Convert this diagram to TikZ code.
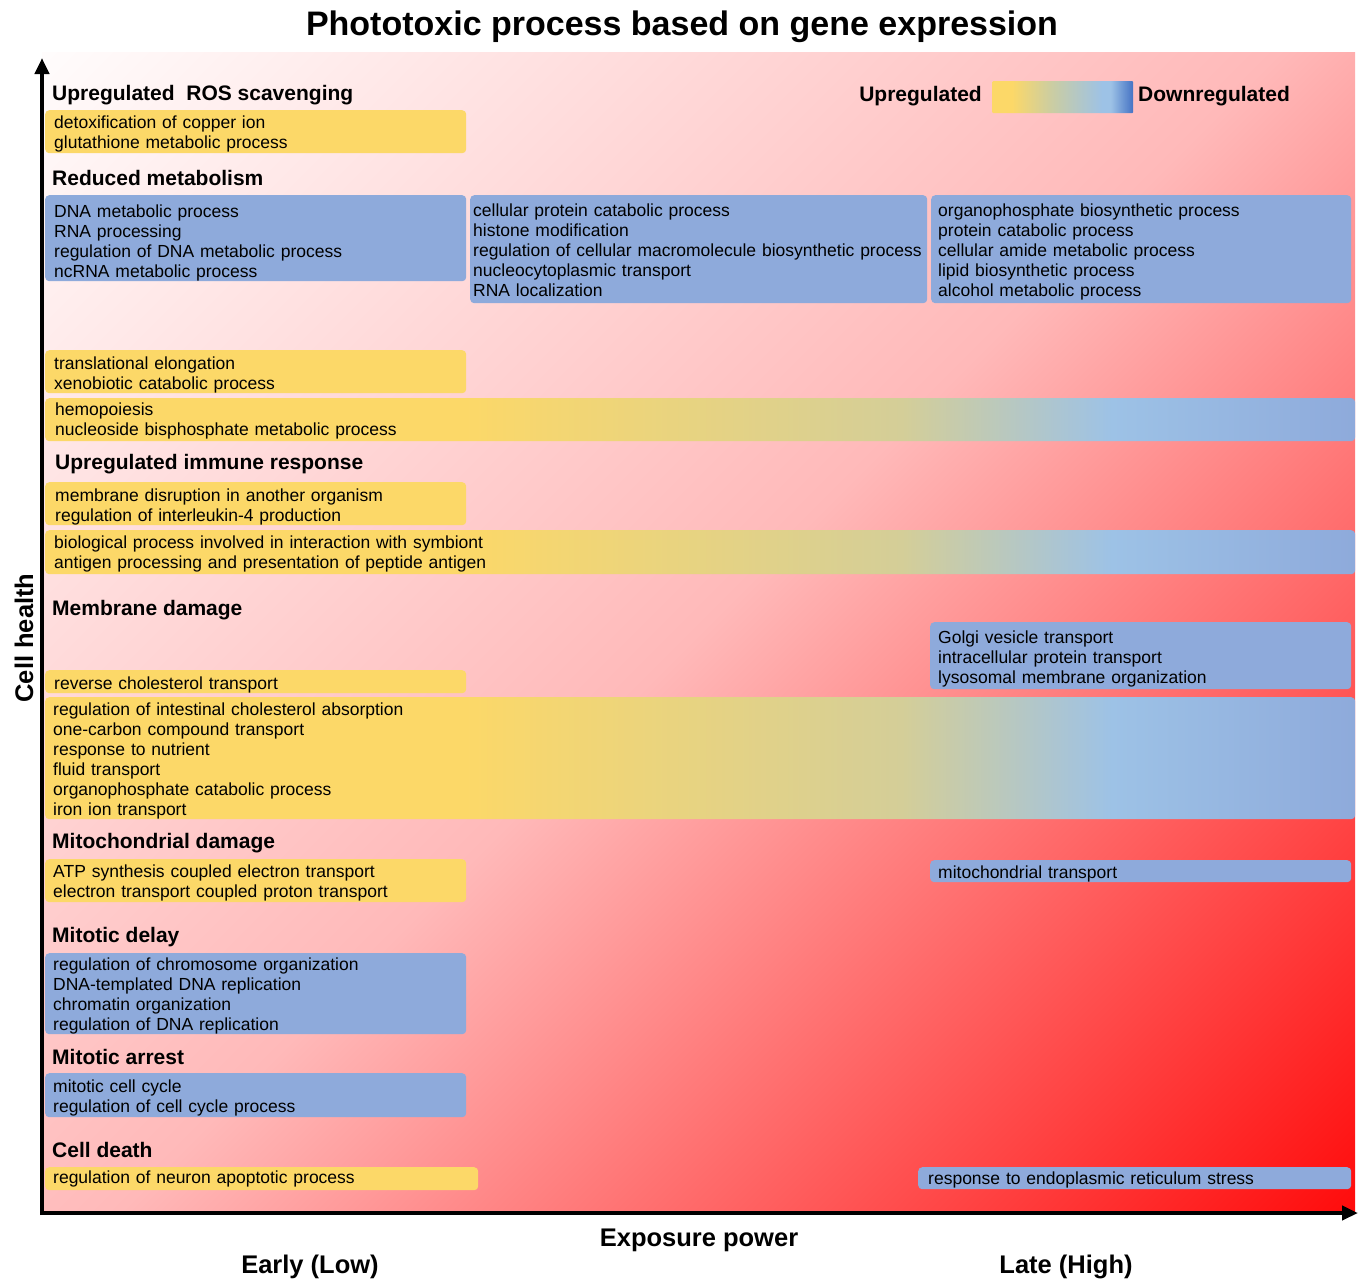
\documentclass[tikz,border=0pt]{standalone}
\usepackage{fontspec}
\setmainfont{Liberation Sans}
\usetikzlibrary{arrows.meta}
\definecolor{ylw}{RGB}{252,216,104}
\definecolor{blu}{RGB}{142,170,219}
\definecolor{midc}{RGB}{212,206,152}
\definecolor{lbl}{RGB}{157,194,230}
\definecolor{lgmid}{RGB}{203,205,162}
\definecolor{lgdark}{RGB}{68,114,196}
\definecolor{bgA}{RGB}{255,252,252}
\definecolor{bgB}{RGB}{255,185,185}
\definecolor{bgC}{RGB}{255,12,12}
\pgfdeclarehorizontalshading{upbar}{100bp}{color(0bp)=(ylw); color(25bp)=(ylw); color(41bp)=(ylw); color(57.7bp)=(midc); color(65.7bp)=(lbl); color(75bp)=(blu); color(100bp)=(blu)}
\pgfdeclarehorizontalshading{legshade}{100bp}{color(0bp)=(ylw); color(32bp)=(ylw); color(46bp)=(lgmid); color(64bp)=(lbl); color(67bp)=(lbl); color(75bp)=(lgdark); color(100bp)=(lgdark)}
\pgfdeclarehorizontalshading{bgshade}{100bp}{color(0bp)=(bgA); color(14.6bp)=(bgA); color(50bp)=(bgB); color(85.4bp)=(bgC); color(100bp)=(bgC)}
\newcommand\bodyfs{\fontsize{17.5pt}{20pt}\selectfont}
\newcommand\hdfs{\fontsize{21pt}{24pt}\selectfont\bfseries}
\newcommand\axfs{\fontsize{25.5pt}{28pt}\selectfont\bfseries}
\newcommand\ttlfs{\fontsize{34pt}{38pt}\selectfont\bfseries}
\tikzset{
  gobox/.style={rounded corners=4pt, anchor=north west, inner ysep=0pt, align=left, font=\bodyfs, text=black},
  upbox/.style={gobox, fill=ylw},
  downbox/.style={gobox, fill=blu},
  mixbox/.style={gobox, shading=upbar},
  tb/.style 2 args={execute at begin node={\rule{0pt}{#1pt}}, execute at end node={\rule[-#2pt]{0pt}{#2pt}}},
  hd/.style={anchor=base west, font=\hdfs, inner sep=0pt},
  axlbl/.style={font=\axfs, inner sep=0pt},
  axisline/.style={line width=4pt, -{Triangle[length=16pt,width=14pt]}},
}
\begin{document}
\begin{tikzpicture}[x=1pt,y=-1pt]
\useasboundingbox (0,0) rectangle (1359,1278);
% background
\shade[shading=bgshade, shading angle=-45] (42,52) rectangle (1355,1213);
% title
\node[font=\ttlfs, anchor=base, inner sep=0pt] (title) at (682,35) {Phototoxic process based on gene expression};
% legend
\node[anchor=base east, font=\hdfs, inner sep=0pt] (uplbl) at (982,101) {Upregulated};
\node[anchor=north west, shading=legshade, minimum width=141pt, minimum height=32pt, inner sep=0pt, rounded corners=1pt] (lgbar) at (992,81) {};
\node[anchor=base west, font=\hdfs, inner sep=0pt] (dnlbl) at (1138,101) {Downregulated};
% headings
\node[hd] (h1) at (52,100) {Upregulated\ \ ROS scavenging};
\node[hd] (h2) at (52,185) {Reduced metabolism};
\node[hd] (h3) at (55,469) {Upregulated immune response};
\node[hd] (h4) at (52,615) {Membrane damage};
\node[hd] (h5) at (52,848) {Mitochondrial damage};
\node[hd] (h6) at (52,942) {Mitotic delay};
\node[hd] (h7) at (52,1064) {Mitotic arrest};
\node[hd] (h8) at (52,1157) {Cell death};
% boxes
\node[upbox, inner xsep=9pt, text width=403pt, tb={18}{5}] (b1) at (45,110) {detoxification of copper ion\\glutathione metabolic process};
\node[downbox, inner xsep=9pt, text width=403pt, tb={22}{4}] (b2) at (45,195) {DNA metabolic process\\RNA processing\\regulation of DNA metabolic process\\ncRNA metabolic process};
\node[downbox, inner xsep=3pt, text width=451pt, tb={21}{7}] (b3) at (470,195) {cellular protein catabolic process\\histone modification\\\mbox{regulation of cellular macromolecule biosynthetic process}\\nucleocytoplasmic transport\\RNA localization};
\node[downbox, inner xsep=7pt, text width=406pt, tb={21}{7}] (b4) at (931,195) {organophosphate biosynthetic process\\protein catabolic process\\cellular amide metabolic process\\lipid biosynthetic process\\alcohol metabolic process};
\node[upbox, inner xsep=9pt, text width=403pt, tb={19}{4}] (b5) at (45,350) {translational elongation\\xenobiotic catabolic process};
\node[mixbox, inner xsep=10pt, text width=1290pt, tb={17}{6}] (b6) at (45,398) {hemopoiesis\\nucleoside bisphosphate metabolic process};
\node[upbox, inner xsep=10pt, text width=401pt, tb={19}{4}] (b7) at (45,482) {membrane disruption in another organism\\regulation of interleukin-4 production};
\node[mixbox, inner xsep=9pt, text width=1292pt, tb={18}{6}] (b8) at (45,530) {biological process involved in interaction with symbiont\\antigen processing and presentation of peptide antigen};
\node[downbox, inner xsep=8pt, text width=405pt, tb={21}{6}] (b9) at (930,622) {Golgi vesicle transport\\intracellular protein transport\\lysosomal membrane organization};
\node[upbox, inner xsep=9pt, text width=403pt, tb={19}{4}] (b10) at (45,670) {reverse cholesterol transport};
\node[mixbox, inner xsep=8pt, text width=1294pt, tb={18}{4}] (b11) at (45,697) {regulation of intestinal cholesterol absorption\\one-carbon compound transport\\response to nutrient\\fluid transport\\organophosphate catabolic process\\iron ion transport};
\node[upbox, inner xsep=8pt, text width=405pt, tb={18}{5}] (b12) at (45,859) {ATP synthesis coupled electron transport\\electron transport coupled proton transport};
\node[downbox, inner xsep=8pt, text width=405pt, tb={18}{4}] (b13) at (930,860) {mitochondrial transport};
\node[downbox, inner xsep=8pt, text width=405pt, tb={17}{4}] (b14) at (45,953) {regulation of chromosome organization\\DNA-templated DNA replication\\chromatin organization\\regulation of DNA replication};
\node[downbox, inner xsep=8pt, text width=405pt, tb={19}{5}] (b15) at (45,1073) {mitotic cell cycle\\regulation of cell cycle process};
\node[upbox, inner xsep=8pt, text width=417pt, tb={16}{7}] (b16) at (45,1167) {regulation of neuron apoptotic process};
\node[downbox, inner xsep=10pt, text width=413pt, tb={17}{5}] (b17) at (918,1167) {response to endoplasmic reticulum stress};
% axes
\coordinate (origin) at (42,1215);
\coordinate (xorig) at (40,1213);
\coordinate (ytip) at (42,58);
\coordinate (xtip) at (1358,1213);
\draw[axisline] (origin) -- (ytip);
\draw[axisline] (xorig) -- (xtip);
\node[axlbl, rotate=90] (ylbl) at (24,638) {Cell health};
\node[axlbl, anchor=base] (xlbl) at (699,1246) {Exposure power};
\node[axlbl, anchor=base] (early) at (310,1273) {Early (Low)};
\node[axlbl, anchor=base] (late) at (1066,1273) {Late (High)};
\end{tikzpicture}
\end{document}
